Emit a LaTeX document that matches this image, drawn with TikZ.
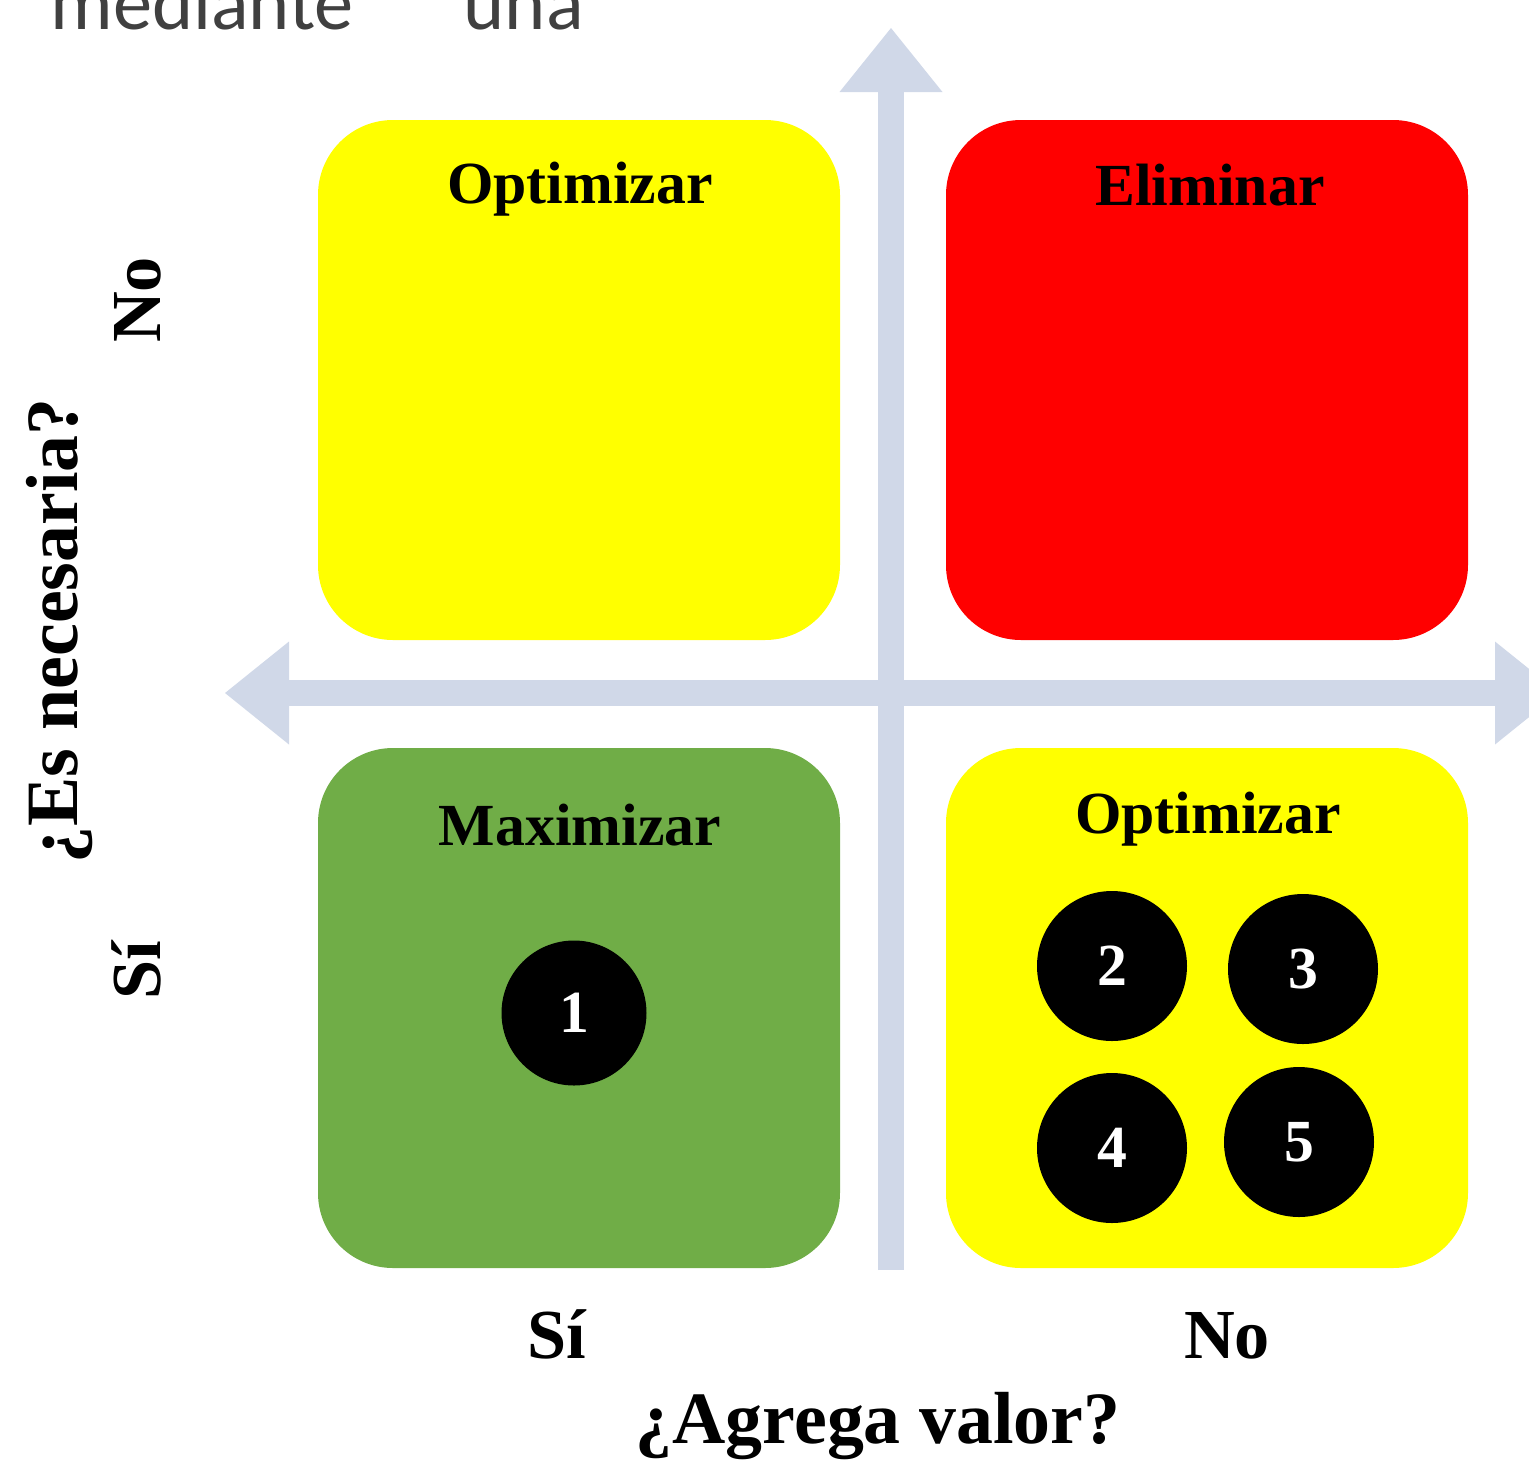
\documentclass[tikz,border=0pt]{standalone}
\usepackage{fontspec}
\setmainfont{Liberation Serif}
\newfontfamily\bodyfont{Carlito}
\usepackage{xcolor}
\usepackage{tikz}
\usetikzlibrary{positioning,arrows.meta}
\definecolor{axisgray}{RGB}{208,216,232}
\definecolor{quadyellow}{RGB}{255,255,0}
\definecolor{quadred}{RGB}{255,0,0}
\definecolor{quadgreen}{RGB}{112,173,71}
\definecolor{textgray}{RGB}{64,64,64}
\tikzset{
    axistip/.tip={Triangle[length=0.64cm, width=1.03cm, line width=0pt]},
    axisarrow/.style={draw=axisgray, line width=0.26cm},
    quad/.style={rectangle, rounded corners=0.75cm, minimum width=5.22cm, minimum height=5.2cm},
    quadtitle/.style={anchor=base, font=\bfseries\fontsize{17}{20}\selectfont},
    item/.style={circle, fill=black, text=white, minimum size=1.5cm, inner sep=0pt, font=\bfseries\fontsize{17}{20}\selectfont},
    axislabel/.style={anchor=base, font=\bfseries\fontsize{20}{24}\selectfont},
    axistitle/.style={axislabel, font=\bfseries\fontsize{21}{25}\selectfont}
}

\begin{document}
\begin{tikzpicture}
    \useasboundingbox (0,0) rectangle (15.29,-14.60);
    \clip (0,0) rectangle (15.29,-14.60);

    % Text above
    \node [anchor=base west, inner sep=0pt, text=textgray, font=\bodyfont\fontsize{22.3}{26}\selectfont] (intro) at (0.50,-0.29) {mediante\hspace{1.1cm}una};

    % Axes
    \coordinate (vbottom) at (8.91,-12.70);
    \coordinate (vtop) at (8.91,-0.28);
    \coordinate (hleft) at (2.25,-6.93);
    \coordinate (hright) at (15.59,-6.93);
    \draw [axisarrow, -axistip] (vbottom) -- (vtop);
    \draw [axisarrow, axistip-axistip] (hleft) -- (hright);

    % Quadrants
    \node [quad, fill=quadyellow] (keep) at (5.79,-3.80) {};
    \node [quad, fill=quadred] (drop) at (12.07,-3.80) {};
    \node [quad, fill=quadgreen] (value) at (5.79,-10.08) {};
    \node [quad, fill=quadyellow] (improve) at (12.07,-10.08) {};

    \node [quadtitle] (keeptitle) at (5.80,-2.03) {Optimizar};
    \node [quadtitle] (droptitle) at (12.10,-2.05) {Eliminar};
    \node [quadtitle] (valuetitle) at (5.80,-8.45) {Maximizar};
    \node [quadtitle] (improvetitle) at (12.08,-8.33) {Optimizar};

    % Activities
    \node [item, minimum size=1.45cm] (act1) at (5.74,-10.13) {1};
    \node [item] (act2) at (11.12,-9.66) {2};
    \node [item] (act3) at (13.03,-9.69) {3};
    \node [item] (act4) at (11.12,-11.48) {4};
    \node [item] (act5) at (12.99,-11.42) {5};

    % Axis labels
    \node [axislabel] (xyes) at (5.57,-13.58) {Sí};
    \node [axislabel] (xno) at (12.27,-13.58) {No};
    \node [axistitle] (xtitle) at (8.78,-14.43) {¿Agrega valor?};
    \node [axislabel, rotate=90] (yno) at (1.60,-3.00) {No};
    \node [axislabel, rotate=90] (yyes) at (1.60,-9.70) {Sí};
    \node [axistitle, rotate=90] (ytitle) at (0.78,-6.31) {¿Es necesaria?};

\end{tikzpicture}
\end{document}
